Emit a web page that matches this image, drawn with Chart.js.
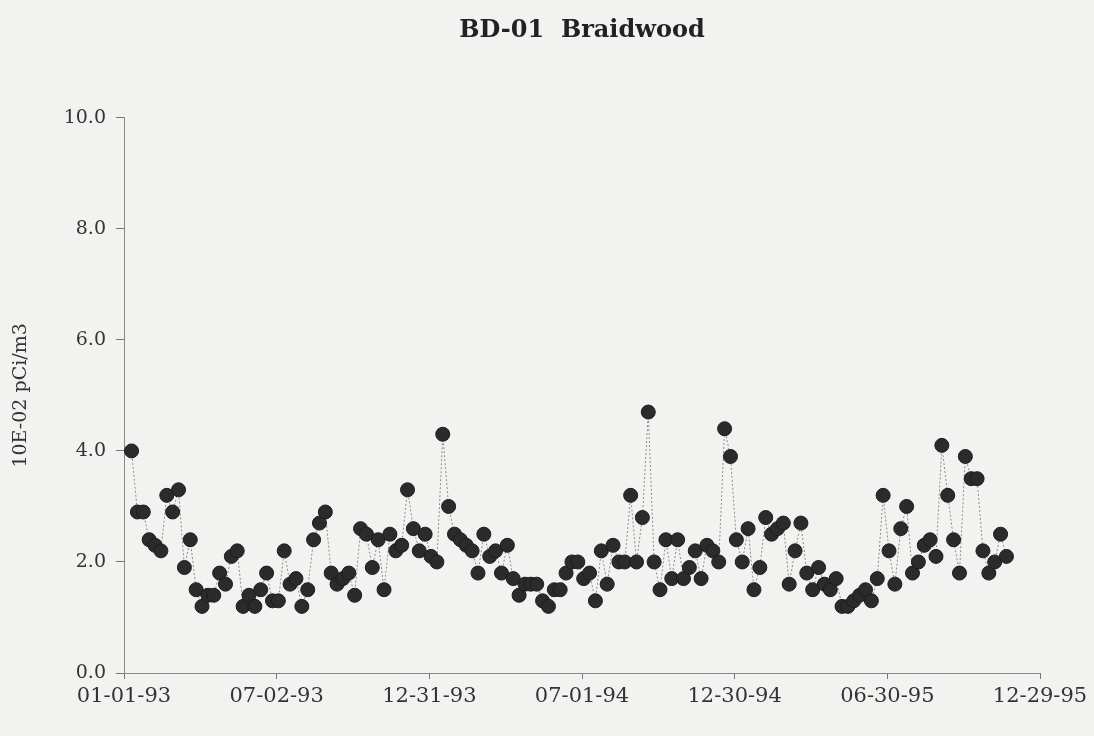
<!DOCTYPE html>
<html>
<head>
<meta charset="utf-8">
<title>BD-01 Braidwood</title>
<script src="https://cdn.jsdelivr.net/npm/chart.js@4.4.1/dist/chart.umd.min.js"></script>
<style>
  html, body { margin: 0; padding: 0; background: #f2f2f0; }
  #wrap { width: 1094px; height: 736px; }
</style>
</head>
<body>
<div id="wrap"><canvas id="chart" width="1094" height="736"></canvas></div>
<script>
// weekly sample dates (MM-DD-YY)
const sampleDates = [
  '01-10-93','01-17-93','01-24-93','01-31-93','02-07-93','02-14-93','02-21-93','02-28-93',
  '03-07-93','03-14-93','03-21-93','03-28-93','04-04-93','04-11-93','04-18-93','04-25-93',
  '05-02-93','05-09-93','05-16-93','05-23-93','05-30-93','06-06-93','06-13-93','06-20-93',
  '06-27-93','07-04-93','07-11-93','07-18-93','07-25-93','08-01-93','08-08-93','08-15-93',
  '08-22-93','08-29-93','09-05-93','09-12-93','09-19-93','09-26-93','10-03-93','10-10-93',
  '10-17-93','10-24-93','10-31-93','11-07-93','11-14-93','11-21-93','11-28-93','12-05-93',
  '12-12-93','12-19-93','12-26-93',
  '01-02-94','01-09-94','01-16-94','01-23-94','01-30-94','02-06-94','02-13-94','02-20-94',
  '02-27-94','03-06-94','03-13-94','03-20-94','03-27-94','04-03-94','04-10-94','04-17-94',
  '04-24-94','05-01-94','05-08-94','05-15-94','05-22-94','05-29-94','06-05-94','06-12-94',
  '06-19-94','06-26-94','07-03-94','07-10-94','07-17-94','07-24-94','07-31-94','08-07-94',
  '08-14-94','08-21-94','08-28-94','09-04-94','09-11-94','09-18-94','09-25-94','10-02-94',
  '10-09-94','10-16-94','10-23-94','10-30-94','11-06-94','11-13-94','11-20-94','11-27-94',
  '12-04-94','12-11-94','12-18-94','12-25-94',
  '01-01-95','01-08-95','01-15-95','01-22-95','01-29-95','02-05-95','02-12-95','02-19-95',
  '02-26-95','03-05-95','03-12-95','03-19-95','03-26-95','04-02-95','04-09-95','04-16-95',
  '04-23-95','04-30-95','05-07-95','05-14-95','05-21-95','05-28-95','06-04-95','06-11-95',
  '06-18-95','06-25-95','07-02-95','07-09-95','07-16-95','07-23-95','07-30-95','08-06-95',
  '08-13-95','08-20-95','08-27-95','09-03-95','09-10-95','09-17-95','09-24-95','10-01-95',
  '10-08-95','10-15-95','10-22-95','10-29-95','11-05-95','11-12-95','11-19-95'
];

// gross beta, 10E-02 pCi/m3
const betaValues = [
  4.0, 2.9, 2.9, 2.4, 2.3, 2.2, 3.2, 2.9, 3.3, 1.9, 2.4, 1.5, 1.2, 1.4, 1.4, 1.8,
  1.6, 2.1, 2.2, 1.2, 1.4, 1.2, 1.5, 1.8, 1.3, 1.3, 2.2, 1.6, 1.7, 1.2, 1.5, 2.4,
  2.7, 2.9, 1.8, 1.6, 1.7, 1.8, 1.4, 2.6, 2.5, 1.9, 2.4, 1.5, 2.5, 2.2, 2.3, 3.3,
  2.6, 2.2, 2.5, 2.1, 2.0, 4.3, 3.0, 2.5, 2.4, 2.3, 2.2, 1.8, 2.5, 2.1, 2.2, 1.8,
  2.3, 1.7, 1.4, 1.6, 1.6, 1.6, 1.3, 1.2, 1.5, 1.5, 1.8, 2.0, 2.0, 1.7, 1.8, 1.3,
  2.2, 1.6, 2.3, 2.0, 2.0, 3.2, 2.0, 2.8, 4.7, 2.0, 1.5, 2.4, 1.7, 2.4, 1.7, 1.9,
  2.2, 1.7, 2.3, 2.2, 2.0, 4.4, 3.9, 2.4, 2.0, 2.6, 1.5, 1.9, 2.8, 2.5, 2.6, 2.7,
  1.6, 2.2, 2.7, 1.8, 1.5, 1.9, 1.6, 1.5, 1.7, 1.2, 1.2, 1.3, 1.4, 1.5, 1.3, 1.7,
  3.2, 2.2, 1.6, 2.6, 3.0, 1.8, 2.0, 2.3, 2.4, 2.1, 4.1, 3.2, 2.4, 1.8, 3.9, 3.5,
  3.5, 2.2, 1.8, 2.0, 2.5, 2.1
];

const xTickLabels = ['01-01-93', '07-02-93', '12-31-93', '07-01-94', '12-30-94', '06-30-95', '12-29-95'];
const yTicks = [0, 2, 4, 6, 8, 10];

// days since 01-01-93
function dayOf(s) {
  const [m, d, y] = s.split('-').map(Number);
  return (Date.UTC(1900 + y, m - 1, d) - Date.UTC(1993, 0, 1)) / 86400000;
}
const xTickDays = xTickLabels.map(dayOf);

const points = sampleDates.map((s, i) => ({ x: dayOf(s), y: betaValues[i] }));

Chart.defaults.font.family = "'DejaVu Serif', serif";
Chart.defaults.color = '#333';

const ctx = document.getElementById('chart');
new Chart(ctx, {
  type: 'line',
  data: {
    datasets: [{
      label: 'BD-01',
      data: points,
      borderColor: '#8c8c8c',
      borderWidth: 1,
      borderDash: [2, 2],
      tension: 0,
      pointRadius: 7,
      pointBackgroundColor: '#2b2b2b',
      pointBorderColor: '#1c1c1c',
      pointBorderWidth: 1
    }]
  },
  options: {
    responsive: false,
    animation: false,
    layout: { padding: { left: 0, right: 54, top: 0, bottom: 0 } },
    plugins: {
      legend: { display: false },
      tooltip: { enabled: false },
      title: {
        display: true,
        fullSize: false,
        text: 'BD-01  Braidwood',
        color: '#222',
        font: { size: 24, weight: 'bold' },
        padding: { top: 16, bottom: 73 }
      }
    },
    scales: {
      x: {
        type: 'linear',
        min: xTickDays[0],
        max: xTickDays[xTickDays.length - 1],
        afterBuildTicks: scale => { scale.ticks = xTickDays.map(v => ({ value: v })); },
        afterFit: scale => { scale.height = 63; },
        ticks: {
          autoSkip: false,
          maxRotation: 0,
          padding: 5,
          font: { size: 21 },
          callback: (v, i) => xTickLabels[i]
        },
        grid: { drawOnChartArea: false, tickLength: 6, color: '#777' },
        border: { color: '#888', width: 1 }
      },
      y: {
        min: 0,
        max: 10,
        afterBuildTicks: scale => { scale.ticks = yTicks.map(v => ({ value: v })); },
        afterFit: scale => { scale.width = 124; },
        ticks: {
          padding: 10,
          font: { size: 19 },
          callback: v => v.toFixed(1)
        },
        grid: { drawOnChartArea: false, tickLength: 8, color: '#777' },
        border: { color: '#888', width: 1 },
        title: {
          display: true,
          text: '10E-02 pCi/m3',
          font: { size: 19 },
          padding: { top: 10, bottom: 0 }
        }
      }
    }
  }
});
</script>
</body>
</html>
